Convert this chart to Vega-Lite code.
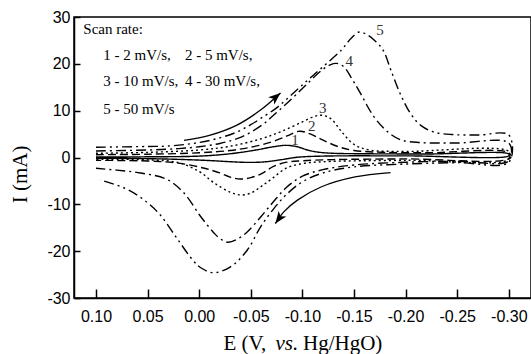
{
  "$schema": "https://vega.github.io/schema/vega-lite/v6.json",
  "width": 457,
  "height": 281,
  "autosize": "none",
  "padding": {"left": 74, "top": 17, "right": 0, "bottom": 56},
  "background": "white",
  "config": {
    "view": {"stroke": "black", "strokeWidth": 1.5},
    "axis": {"grid": false, "domainColor": "black", "domainWidth": 1.5, "tickColor": "black", "tickWidth": 1.5, "labelColor": "black", "labelFont": "Liberation Sans", "labelFontSize": 16}
  },
  "datasets": {
    "cv": [
      {"s":"1","o":1,"E":0.10,"I":0.1},{"s":"1","o":2,"E":0.05,"I":0.15},{"s":"1","o":3,"E":0.0,"I":0.3},{"s":"1","o":4,"E":-0.03,"I":0.8},{"s":"1","o":5,"E":-0.055,"I":1.6},{"s":"1","o":6,"E":-0.072,"I":2.3},{"s":"1","o":7,"E":-0.084,"I":2.6},{"s":"1","o":8,"E":-0.095,"I":2.3},{"s":"1","o":9,"E":-0.105,"I":1.6},{"s":"1","o":10,"E":-0.115,"I":1.15},{"s":"1","o":11,"E":-0.13,"I":0.9},{"s":"1","o":12,"E":-0.16,"I":0.8},{"s":"1","o":13,"E":-0.22,"I":0.75},{"s":"1","o":14,"E":-0.30,"I":0.75},
      {"s":"1","o":15,"E":-0.30,"I":0.35},{"s":"1","o":16,"E":-0.20,"I":0.35},{"s":"1","o":17,"E":-0.12,"I":0.3},{"s":"1","o":18,"E":-0.095,"I":0.05},{"s":"1","o":19,"E":-0.08,"I":-0.45},{"s":"1","o":20,"E":-0.065,"I":-0.9},{"s":"1","o":21,"E":-0.048,"I":-1.05},{"s":"1","o":22,"E":-0.03,"I":-0.9},{"s":"1","o":23,"E":-0.01,"I":-0.65},{"s":"1","o":24,"E":0.02,"I":-0.4},{"s":"1","o":25,"E":0.05,"I":-0.25},{"s":"1","o":26,"E":0.10,"I":-0.15},
      {"s":"2","o":1,"E":0.10,"I":0.6},{"s":"2","o":2,"E":0.05,"I":0.7},{"s":"2","o":3,"E":0.0,"I":1.0},{"s":"2","o":4,"E":-0.03,"I":1.5},{"s":"2","o":5,"E":-0.05,"I":2.2},{"s":"2","o":6,"E":-0.07,"I":3.3},{"s":"2","o":7,"E":-0.085,"I":4.6},{"s":"2","o":8,"E":-0.097,"I":5.6},{"s":"2","o":9,"E":-0.108,"I":5.0},{"s":"2","o":10,"E":-0.12,"I":3.7},{"s":"2","o":11,"E":-0.135,"I":2.3},{"s":"2","o":12,"E":-0.15,"I":1.5},{"s":"2","o":13,"E":-0.18,"I":1.1},{"s":"2","o":14,"E":-0.22,"I":1.0},{"s":"2","o":15,"E":-0.30,"I":1.0},
      {"s":"2","o":16,"E":-0.30,"I":-0.2},{"s":"2","o":17,"E":-0.20,"I":-0.3},{"s":"2","o":18,"E":-0.13,"I":-0.45},{"s":"2","o":19,"E":-0.10,"I":-0.7},{"s":"2","o":20,"E":-0.085,"I":-1.0},{"s":"2","o":21,"E":-0.072,"I":-1.9},{"s":"2","o":22,"E":-0.06,"I":-3.5},{"s":"2","o":23,"E":-0.05,"I":-4.3},{"s":"2","o":24,"E":-0.04,"I":-4.6},{"s":"2","o":25,"E":-0.03,"I":-4.2},{"s":"2","o":26,"E":-0.02,"I":-3.3},{"s":"2","o":27,"E":-0.005,"I":-2.3},{"s":"2","o":28,"E":0.02,"I":-1.2},{"s":"2","o":29,"E":0.05,"I":-0.75},{"s":"2","o":30,"E":0.10,"I":-0.6},
      {"s":"3","o":1,"E":0.10,"I":0.9},{"s":"3","o":2,"E":0.05,"I":1.1},{"s":"3","o":3,"E":0.0,"I":1.6},{"s":"3","o":4,"E":-0.03,"I":2.4},{"s":"3","o":5,"E":-0.06,"I":4.0},{"s":"3","o":6,"E":-0.08,"I":5.6},{"s":"3","o":7,"E":-0.10,"I":7.6},{"s":"3","o":8,"E":-0.112,"I":8.8},{"s":"3","o":9,"E":-0.12,"I":9.0},{"s":"3","o":10,"E":-0.128,"I":8.2},{"s":"3","o":11,"E":-0.138,"I":5.5},{"s":"3","o":12,"E":-0.15,"I":2.8},{"s":"3","o":13,"E":-0.165,"I":1.6},{"s":"3","o":14,"E":-0.20,"I":1.3},{"s":"3","o":15,"E":-0.30,"I":1.3},
      {"s":"3","o":16,"E":-0.30,"I":-0.4},{"s":"3","o":17,"E":-0.20,"I":-0.6},{"s":"3","o":18,"E":-0.12,"I":-0.9},{"s":"3","o":19,"E":-0.10,"I":-1.3},{"s":"3","o":20,"E":-0.085,"I":-2.2},{"s":"3","o":21,"E":-0.07,"I":-4.6},{"s":"3","o":22,"E":-0.06,"I":-6.2},{"s":"3","o":23,"E":-0.05,"I":-7.6},{"s":"3","o":24,"E":-0.04,"I":-8.0},{"s":"3","o":25,"E":-0.03,"I":-7.4},{"s":"3","o":26,"E":-0.015,"I":-5.5},{"s":"3","o":27,"E":0.0,"I":-3.0},{"s":"3","o":28,"E":0.02,"I":-1.1},{"s":"3","o":29,"E":0.05,"I":-0.5},{"s":"3","o":30,"E":0.10,"I":-0.4},
      {"s":"4","o":1,"E":0.10,"I":1.4},{"s":"4","o":2,"E":0.05,"I":1.6},{"s":"4","o":3,"E":0.02,"I":1.9},{"s":"4","o":4,"E":0.0,"I":2.3},{"s":"4","o":5,"E":-0.02,"I":3.0},{"s":"4","o":6,"E":-0.04,"I":4.3},{"s":"4","o":7,"E":-0.06,"I":6.8},{"s":"4","o":8,"E":-0.075,"I":9.6},{"s":"4","o":9,"E":-0.09,"I":12.6},{"s":"4","o":10,"E":-0.105,"I":15.8},{"s":"4","o":11,"E":-0.118,"I":18.5},{"s":"4","o":12,"E":-0.127,"I":19.8},{"s":"4","o":13,"E":-0.133,"I":20.1},{"s":"4","o":14,"E":-0.14,"I":19.4},{"s":"4","o":15,"E":-0.148,"I":16.8},{"s":"4","o":16,"E":-0.156,"I":13.8},{"s":"4","o":17,"E":-0.169,"I":8.8},{"s":"4","o":18,"E":-0.182,"I":5.6},{"s":"4","o":19,"E":-0.195,"I":3.8},{"s":"4","o":20,"E":-0.214,"I":3.2},{"s":"4","o":21,"E":-0.25,"I":3.1},{"s":"4","o":22,"E":-0.30,"I":3.1},
      {"s":"4","o":23,"E":-0.30,"I":-0.7},{"s":"4","o":24,"E":-0.25,"I":-0.8},{"s":"4","o":25,"E":-0.20,"I":-1.0},{"s":"4","o":26,"E":-0.15,"I":-1.6},{"s":"4","o":27,"E":-0.12,"I":-2.6},{"s":"4","o":28,"E":-0.10,"I":-4.0},{"s":"4","o":29,"E":-0.085,"I":-6.3},{"s":"4","o":30,"E":-0.0725,"I":-9.3},{"s":"4","o":31,"E":-0.06,"I":-12.6},{"s":"4","o":32,"E":-0.047,"I":-15.8},{"s":"4","o":33,"E":-0.038,"I":-17.3},{"s":"4","o":34,"E":-0.028,"I":-18.1},{"s":"4","o":35,"E":-0.02,"I":-17.3},{"s":"4","o":36,"E":-0.0143,"I":-16.1},{"s":"4","o":37,"E":-0.0014,"I":-12.6},{"s":"4","o":38,"E":0.0147,"I":-7.6},{"s":"4","o":39,"E":0.031,"I":-4.7},{"s":"4","o":40,"E":0.0567,"I":-3.3},{"s":"4","o":41,"E":0.08,"I":-2.7},{"s":"4","o":42,"E":0.10,"I":-2.3},
      {"s":"5","o":1,"E":0.10,"I":2.2},{"s":"5","o":2,"E":0.05,"I":2.35},{"s":"5","o":3,"E":0.03,"I":2.45},{"s":"5","o":4,"E":0.0,"I":3.2},{"s":"5","o":5,"E":-0.02,"I":4.2},{"s":"5","o":6,"E":-0.036,"I":5.4},{"s":"5","o":7,"E":-0.05,"I":7.0},{"s":"5","o":8,"E":-0.06,"I":8.4},{"s":"5","o":9,"E":-0.075,"I":10.6},{"s":"5","o":10,"E":-0.09,"I":13.5},{"s":"5","o":11,"E":-0.105,"I":16.5},{"s":"5","o":12,"E":-0.12,"I":19.4},{"s":"5","o":13,"E":-0.138,"I":23.0},{"s":"5","o":14,"E":-0.147,"I":25.4},{"s":"5","o":15,"E":-0.155,"I":26.8},{"s":"5","o":16,"E":-0.162,"I":26.3},{"s":"5","o":17,"E":-0.17,"I":25.0},{"s":"5","o":18,"E":-0.178,"I":23.0},{"s":"5","o":19,"E":-0.186,"I":18.5},{"s":"5","o":20,"E":-0.195,"I":13.5},{"s":"5","o":21,"E":-0.205,"I":9.3},{"s":"5","o":22,"E":-0.215,"I":6.8},{"s":"5","o":23,"E":-0.228,"I":5.4},{"s":"5","o":24,"E":-0.245,"I":4.9},{"s":"5","o":25,"E":-0.27,"I":4.8},{"s":"5","o":26,"E":-0.30,"I":4.8},
      {"s":"5","o":27,"E":-0.30,"I":-1.0},{"s":"5","o":28,"E":-0.25,"I":-1.1},{"s":"5","o":29,"E":-0.20,"I":-1.4},{"s":"5","o":30,"E":-0.15,"I":-2.0},{"s":"5","o":31,"E":-0.12,"I":-3.3},{"s":"5","o":32,"E":-0.10,"I":-5.2},{"s":"5","o":33,"E":-0.085,"I":-7.8},{"s":"5","o":34,"E":-0.0727,"I":-10.8},{"s":"5","o":35,"E":-0.0595,"I":-14.8},{"s":"5","o":36,"E":-0.0465,"I":-19.8},{"s":"5","o":37,"E":-0.030,"I":-23.4},{"s":"5","o":38,"E":-0.0137,"I":-24.6},{"s":"5","o":39,"E":-0.002,"I":-23.6},{"s":"5","o":40,"E":0.0059,"I":-22.0},{"s":"5","o":41,"E":0.0224,"I":-17.0},{"s":"5","o":42,"E":0.0388,"I":-12.0},{"s":"5","o":43,"E":0.055,"I":-8.8},{"s":"5","o":44,"E":0.0715,"I":-6.6},{"s":"5","o":45,"E":0.096,"I":-4.8}
    ],
    "arrows": [
      {"a":"up","o":1,"E":0.0147,"I":3.67},{"a":"up","o":2,"E":-0.0099,"I":4.73},{"a":"up","o":3,"E":-0.0361,"I":6.87},{"a":"up","o":4,"E":-0.0591,"I":10.07},{"a":"up","o":5,"E":-0.0788,"I":13.77},
      {"a":"down","o":1,"E":-0.1854,"I":-3.24},{"a":"down","o":2,"E":-0.151,"I":-4.16},{"a":"down","o":3,"E":-0.118,"I":-6.3},{"a":"down","o":4,"E":-0.0952,"I":-9.1},{"a":"down","o":5,"E":-0.082,"I":-11.6},{"a":"down","o":6,"E":-0.0738,"I":-14.1}
    ],
    "heads": [
      {"E":-0.0788,"I":13.77,"ang":50},
      {"E":-0.0738,"I":-14.1,"ang":216}
    ],
    "legend": [
      {"E":0.1123,"I":27.44,"t":"Scan rate:"},
      {"E":0.0929,"I":21.95,"t":"1 - 2 mV/s,"},
      {"E":0.0138,"I":21.95,"t":"2 - 5 mV/s,"},
      {"E":0.0929,"I":16.25,"t":"3 - 10 mV/s,"},
      {"E":0.0138,"I":16.25,"t":"4 - 30 mV/s,"},
      {"E":0.0929,"I":10.35,"t":"5 - 50 mV/s"}
    ],
    "nums": [
      {"E":-0.1752,"I":27.3,"t":"5"},
      {"E":-0.1455,"I":20.5,"t":"4"},
      {"E":-0.1197,"I":10.6,"t":"3"},
      {"E":-0.109,"I":6.8,"t":"2"},
      {"E":-0.0928,"I":3.8,"t":"1"}
    ],
    "xtitle": [
      {"E":-0.0235,"I":-39.8,"t":"E (V,"},
      {"E":-0.1006,"I":-39.8,"t":"Hg/HgO)"}
    ],
    "xtitleit": [
      {"E":-0.0739,"I":-39.8,"t":"vs."}
    ]
  },
  "encoding": {
    "x": {"field": "E", "type": "quantitative",
      "scale": {"domain": [-0.3215, 0.1213], "reverse": true, "nice": false, "zero": false},
      "axis": {"title": null, "values": [0.1, 0.05, 0, -0.05, -0.1, -0.15, -0.2, -0.25, -0.3], "tickSize": -9, "labelPadding": 19, "labelExpr": "replace(format(datum.value, '.2f'), '\u2212', '-')"}},
    "y": {"field": "I", "type": "quantitative",
      "scale": {"domain": [-30, 30], "nice": false, "zero": false},
      "axis": {"title": "I (mA)", "titleFont": "Liberation Serif", "titleFontSize": 21, "titleFontWeight": "normal", "titleColor": "black", "titleX": -54, "titleY": 157, "titleBaseline": "middle", "titleAlign": "center", "values": [-30, -20, -10, 0, 10, 20, 30], "tickSize": -6, "labelPadding": 10, "labelExpr": "replace(format(datum.value, 'd'), '\u2212', '-')"}}
  },
  "layer": [
    {
      "data": {"name": "cv"},
      "mark": {"type": "line", "interpolate": "catmull-rom", "strokeWidth": 1.4, "color": "black"},
      "encoding": {
        "order": {"field": "o", "type": "quantitative"},
        "detail": {"field": "s"},
        "strokeDash": {"field": "s", "type": "nominal", "legend": null,
          "scale": {"domain": ["1", "2", "3", "4", "5"], "range": [[1, 0], [8, 4], [2, 3], [10, 4, 2, 4], [10, 4, 2, 4, 2, 4]]}}
      }
    },
    {
      "data": {"name": "arrows"},
      "mark": {"type": "line", "interpolate": "catmull-rom", "strokeWidth": 1.3, "color": "black"},
      "encoding": {
        "order": {"field": "o", "type": "quantitative"},
        "detail": {"field": "a"}
      }
    },
    {
      "data": {"name": "heads"},
      "mark": {"type": "point", "filled": true, "color": "black", "opacity": 1, "size": 300, "shape": "M0,0L-0.55,1.4L0,1.05L0.55,1.4Z"},
      "encoding": {"angle": {"field": "ang", "type": "quantitative", "scale": null}}
    },
    {
      "data": {"name": "legend"},
      "mark": {"type": "text", "align": "left", "baseline": "middle", "font": "Liberation Serif", "fontSize": 15, "fill": "black"},
      "encoding": {"text": {"field": "t"}}
    },
    {
      "data": {"name": "nums"},
      "mark": {"type": "text", "align": "center", "baseline": "middle", "font": "Liberation Serif", "fontSize": 15, "fill": "#333333"},
      "encoding": {"text": {"field": "t"}}
    },
    {
      "data": {"name": "xtitle"},
      "mark": {"type": "text", "align": "left", "baseline": "middle", "font": "Liberation Serif", "fontSize": 21, "fill": "black"},
      "encoding": {"text": {"field": "t"}}
    },
    {
      "data": {"name": "xtitleit"},
      "mark": {"type": "text", "align": "left", "baseline": "middle", "font": "Liberation Serif", "fontSize": 21, "fontStyle": "italic", "fill": "black"},
      "encoding": {"text": {"field": "t"}}
    }
  ]
}
